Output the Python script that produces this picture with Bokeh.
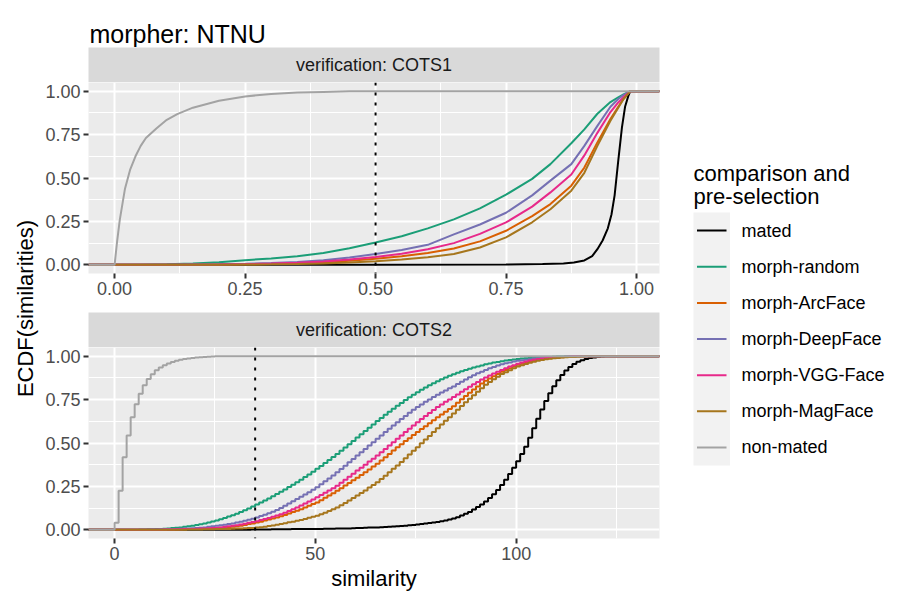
import numpy as np
from bokeh.plotting import figure
from bokeh.layouts import row, column
from bokeh.models import Range1d, FixedTicker, PrintfTickFormatter, Span
from bokeh.embed import file_html
from bokeh.resources import INLINE
from bokeh.core.properties import value

FONT = "Liberation Sans"

# ---------------- texts ----------------
title_text = "morpher: NTNU"
strip_labels = ["verification: COTS1", "verification: COTS2"]
x_title = "similarity"
y_title = "ECDF(similarities)"
legend_title = ["comparison and", "pre-selection"]
series_names = ["mated", "morph-random", "morph-ArcFace", "morph-DeepFace",
                "morph-VGG-Face", "morph-MagFace", "non-mated"]
series_colors = ["#000000", "#1B9E77", "#D95F02", "#7570B3",
                 "#E7298A", "#A6761D", "#A3A3A3"]

# ---------------- ticks / thresholds ----------------
cots1_ticks = [0.0, 0.25, 0.5, 0.75, 1.0]
cots2_ticks = [0, 50, 100]
ecdf_ticks = [0.0, 0.25, 0.5, 0.75, 1.0]
cots1_threshold = 0.5
cots2_threshold = 35

# ---------------- COTS1 (continuous similarity) ----------------
c1_mated_x = [0.0, 0.50, 0.75, 0.82, 0.86, 0.88, 0.90, 0.915, 0.925, 0.935, 0.945,
              0.952, 0.958, 0.965, 0.972, 0.978, 0.984, 0.988]
c1_mated_y = [0.0, 0.001, 0.002, 0.004, 0.008, 0.013, 0.025, 0.05, 0.09, 0.14, 0.21,
              0.29, 0.40, 0.60, 0.79, 0.91, 0.97, 1.0]

c1_random_x = [0.0, 0.05, 0.10, 0.15, 0.20, 0.25, 0.30, 0.35, 0.40, 0.45, 0.50, 0.55,
               0.60, 0.65, 0.70, 0.75, 0.80, 0.835, 0.875, 0.90, 0.925, 0.95, 0.965,
               0.975, 0.988]
c1_random_y = [0.0, 0.001, 0.003, 0.007, 0.015, 0.027, 0.037, 0.05, 0.068, 0.095, 0.129,
               0.165, 0.21, 0.262, 0.325, 0.404, 0.495, 0.58, 0.70, 0.78, 0.87, 0.937,
               0.965, 0.982, 1.0]

c1_deepface_x = [0.0, 0.10, 0.20, 0.25, 0.30, 0.35, 0.40, 0.45, 0.50, 0.55, 0.60, 0.625,
                 0.65, 0.70, 0.75, 0.80, 0.835, 0.875, 0.90, 0.925, 0.95, 0.965, 0.975,
                 0.988]
c1_deepface_y = [0.0, 0.001, 0.003, 0.006, 0.010, 0.016, 0.026, 0.042, 0.062, 0.085, 0.115,
                 0.145, 0.175, 0.232, 0.30, 0.40, 0.485, 0.58, 0.685, 0.80, 0.91, 0.955,
                 0.978, 1.0]

c1_grid_x = [0.0, 0.10, 0.20, 0.25, 0.30, 0.35, 0.40, 0.45, 0.50, 0.55, 0.60, 0.65, 0.70,
             0.75, 0.80, 0.835, 0.875, 0.90, 0.925, 0.95, 0.965, 0.975, 0.988]
c1_vgg_y = [0.0, 0.001, 0.002, 0.004, 0.007, 0.012, 0.019, 0.03, 0.045, 0.064, 0.09, 0.125,
            0.178, 0.244, 0.335, 0.417, 0.52, 0.63, 0.76, 0.88, 0.935, 0.965, 1.0]
c1_arcface_y = [0.0, 0.0005, 0.002, 0.003, 0.005, 0.009, 0.014, 0.023, 0.035, 0.049, 0.068,
                0.094, 0.135, 0.196, 0.28, 0.35, 0.456, 0.56, 0.705, 0.84, 0.91, 0.955, 1.0]
c1_magface_y = [0.0, 0.0, 0.001, 0.002, 0.003, 0.005, 0.008, 0.013, 0.02, 0.03, 0.043,
                0.062, 0.10, 0.158, 0.245, 0.32, 0.427, 0.53, 0.685, 0.83, 0.905, 0.955, 1.0]

c1_nonmated_x = [0.0, 0.005, 0.01, 0.02, 0.03, 0.04, 0.05, 0.06, 0.08, 0.10, 0.12, 0.15,
                 0.20, 0.25, 0.30, 0.35, 0.40, 0.45, 0.50]
c1_nonmated_y = [0.0, 0.14, 0.26, 0.44, 0.55, 0.625, 0.685, 0.73, 0.785, 0.835, 0.868,
                 0.905, 0.945, 0.97, 0.984, 0.992, 0.996, 0.999, 1.0]

# ---------------- COTS2 (integer similarity, ECDF per integer) ----------------
c2_mated_start = 30
c2_mated = [
    0.001, 0.001, 0.001, 0.001, 0.002, 0.002, 0.002, 0.002, 0.002, 0.003,
    0.003, 0.003, 0.003, 0.003, 0.004, 0.004, 0.004, 0.004, 0.005, 0.005,
    0.005, 0.005, 0.006, 0.006, 0.006, 0.007, 0.007, 0.008, 0.008, 0.009,
    0.010, 0.011, 0.012, 0.013, 0.013, 0.014, 0.015, 0.016, 0.017, 0.019,
    0.020, 0.022, 0.024, 0.026, 0.028, 0.030, 0.033, 0.036, 0.039, 0.042,
    0.045, 0.049, 0.054, 0.059, 0.065, 0.073, 0.082, 0.092, 0.103, 0.117,
    0.131, 0.146, 0.163, 0.183, 0.205, 0.230, 0.258, 0.288, 0.322, 0.358,
    0.395, 0.436, 0.478, 0.530, 0.585, 0.640, 0.693, 0.742, 0.787, 0.827,
    0.862, 0.892, 0.917, 0.938, 0.955, 0.968, 0.977, 0.984, 0.989, 0.993,
    0.996, 0.998, 0.999, 1.0]

c2_random_start = 3
c2_random = [
    0.001, 0.001, 0.001, 0.002, 0.002, 0.003, 0.003, 0.004,
    0.005, 0.006, 0.008, 0.010, 0.012, 0.014, 0.017, 0.020, 0.024, 0.028,
    0.032, 0.037, 0.042, 0.048, 0.054, 0.061, 0.068, 0.076, 0.084, 0.092,
    0.102, 0.112, 0.123, 0.134, 0.146, 0.157, 0.169, 0.181, 0.193, 0.206,
    0.219, 0.232, 0.246, 0.260, 0.274, 0.289, 0.304, 0.319, 0.335, 0.351,
    0.368, 0.385, 0.402, 0.419, 0.437, 0.455, 0.474, 0.493, 0.512, 0.531,
    0.550, 0.569, 0.588, 0.607, 0.626, 0.644, 0.662, 0.680, 0.697, 0.714,
    0.731, 0.747, 0.763, 0.778, 0.792, 0.806, 0.819, 0.832, 0.844, 0.856,
    0.867, 0.877, 0.887, 0.896, 0.905, 0.913, 0.921, 0.928, 0.935, 0.941,
    0.947, 0.953, 0.958, 0.963, 0.967, 0.971, 0.975, 0.978, 0.981, 0.984,
    0.986, 0.988, 0.990, 0.992, 0.993, 0.994, 0.995, 0.996, 0.997, 0.998,
    0.998, 0.999, 0.999, 1.0]

c2_arcface_start = 8
c2_arcface = [
    0.001, 0.001, 0.001,
    0.001, 0.001, 0.002, 0.002, 0.002, 0.003, 0.003, 0.004, 0.004, 0.005,
    0.006, 0.007, 0.008, 0.009, 0.010, 0.012, 0.014, 0.016, 0.018, 0.021,
    0.024, 0.028, 0.033, 0.037, 0.042, 0.047, 0.053, 0.059, 0.065, 0.071,
    0.078, 0.086, 0.094, 0.102, 0.110, 0.119, 0.128, 0.138, 0.148, 0.158,
    0.171, 0.184, 0.197, 0.211, 0.225, 0.240, 0.255, 0.270, 0.285, 0.300,
    0.316, 0.332, 0.348, 0.364, 0.380, 0.399, 0.418, 0.437, 0.457, 0.476,
    0.493, 0.511, 0.528, 0.546, 0.563, 0.580, 0.597, 0.614, 0.631, 0.648,
    0.664, 0.680, 0.696, 0.712, 0.732, 0.752, 0.771, 0.790, 0.808, 0.825,
    0.842, 0.858, 0.871, 0.885, 0.898, 0.910, 0.920, 0.930, 0.940, 0.950,
    0.957, 0.963, 0.969, 0.974, 0.978, 0.982, 0.985, 0.988, 0.990, 0.992,
    0.994, 0.996, 0.997, 0.998, 0.999, 1.0]

c2_deepface_start = 5
c2_deepface = [
    0.001, 0.001, 0.001, 0.001, 0.002, 0.002,
    0.003, 0.003, 0.004, 0.005, 0.005, 0.006, 0.007, 0.008, 0.009, 0.010,
    0.012, 0.014, 0.017, 0.020, 0.023, 0.026, 0.029, 0.033, 0.037, 0.042,
    0.047, 0.052, 0.058, 0.064, 0.071, 0.079, 0.087, 0.095, 0.104, 0.114,
    0.126, 0.138, 0.151, 0.164, 0.177, 0.190, 0.203, 0.217, 0.231, 0.245,
    0.262, 0.279, 0.296, 0.313, 0.331, 0.350, 0.369, 0.389, 0.408, 0.428,
    0.447, 0.466, 0.485, 0.505, 0.524, 0.543, 0.563, 0.582, 0.601, 0.620,
    0.638, 0.656, 0.674, 0.691, 0.707, 0.722, 0.737, 0.751, 0.765, 0.778,
    0.791, 0.803, 0.815, 0.826, 0.840, 0.853, 0.866, 0.878, 0.890, 0.901,
    0.911, 0.921, 0.930, 0.938, 0.946, 0.953, 0.959, 0.964, 0.969, 0.973,
    0.977, 0.980, 0.983, 0.986, 0.988, 0.990, 0.992, 0.993, 0.994, 0.995,
    0.996, 0.997, 0.998, 0.999, 1.0]

c2_vgg_start = 7
c2_vgg = [
    0.001, 0.001, 0.001, 0.001,
    0.001, 0.002, 0.002, 0.002, 0.003, 0.003, 0.004, 0.004, 0.005, 0.006,
    0.007, 0.008, 0.009, 0.010, 0.012, 0.014, 0.017, 0.020, 0.023, 0.027,
    0.031, 0.035, 0.040, 0.045, 0.050, 0.056, 0.062, 0.068, 0.075, 0.082,
    0.090, 0.099, 0.109, 0.119, 0.129, 0.140, 0.151, 0.163, 0.175, 0.187,
    0.200, 0.213, 0.226, 0.240, 0.254, 0.271, 0.288, 0.305, 0.323, 0.341,
    0.358, 0.375, 0.393, 0.410, 0.428, 0.447, 0.466, 0.485, 0.505, 0.524,
    0.543, 0.563, 0.582, 0.601, 0.620, 0.638, 0.656, 0.673, 0.690, 0.707,
    0.722, 0.737, 0.751, 0.765, 0.780, 0.795, 0.810, 0.824, 0.838, 0.852,
    0.865, 0.877, 0.889, 0.900, 0.911, 0.921, 0.931, 0.940, 0.948, 0.956,
    0.963, 0.969, 0.975, 0.980, 0.984, 0.987, 0.990, 0.992, 0.994, 0.995,
    0.996, 0.997, 0.998, 0.999, 0.999, 1.0]

c2_magface_start = 11
c2_magface = [
    0.001, 0.001, 0.001, 0.001, 0.001, 0.001, 0.001, 0.002, 0.002, 0.002,
    0.002, 0.003, 0.003, 0.003, 0.004, 0.004, 0.005, 0.005, 0.006, 0.007,
    0.008, 0.009, 0.010, 0.011, 0.013, 0.015, 0.018, 0.022, 0.025, 0.029,
    0.033, 0.038, 0.043, 0.047, 0.052, 0.057, 0.063, 0.069, 0.075, 0.081,
    0.090, 0.099, 0.109, 0.119, 0.129, 0.142, 0.155, 0.169, 0.183, 0.197,
    0.212, 0.227, 0.243, 0.258, 0.274, 0.293, 0.312, 0.331, 0.351, 0.370,
    0.391, 0.412, 0.434, 0.455, 0.476, 0.498, 0.520, 0.541, 0.563, 0.585,
    0.606, 0.628, 0.649, 0.670, 0.691, 0.713, 0.734, 0.755, 0.775, 0.795,
    0.815, 0.835, 0.851, 0.867, 0.882, 0.897, 0.908, 0.919, 0.930, 0.940,
    0.948, 0.955, 0.962, 0.968, 0.973, 0.978, 0.982, 0.985, 0.988, 0.990,
    0.992, 0.994, 0.995, 0.996, 0.997, 0.998, 0.999, 0.999, 1.0]

c2_nonmated_start = 0
c2_nonmated = [
    0.040, 0.225, 0.418, 0.543, 0.649, 0.723, 0.784, 0.832, 0.869, 0.896,
    0.919, 0.935, 0.948, 0.958, 0.967, 0.974, 0.979, 0.984, 0.987, 0.990,
    0.992, 0.994, 0.996, 0.997, 0.998, 0.999, 1.0]

cots1_series = [(c1_mated_x, c1_mated_y), (c1_random_x, c1_random_y),
                (c1_grid_x, c1_arcface_y), (c1_deepface_x, c1_deepface_y),
                (c1_grid_x, c1_vgg_y), (c1_grid_x, c1_magface_y),
                (c1_nonmated_x, c1_nonmated_y)]
cots2_series = [(c2_mated_start, c2_mated), (c2_random_start, c2_random),
                (c2_arcface_start, c2_arcface), (c2_deepface_start, c2_deepface),
                (c2_vgg_start, c2_vgg), (c2_magface_start, c2_magface),
                (c2_nonmated_start, c2_nonmated)]

# ---------------- layout constants (pixels) ----------------
TOTAL_W, TOTAL_H = 899, 594
W_YLAB = 40
W_MAIN = 635
W_LEG = TOTAL_W - W_YLAB - W_MAIN
B_LEFT, B_RIGHT = 48, 16
FRAME_H = 191
H_TITLE, H_STRIP = 47, 35
P1_BOTTOM = 39
H_P1 = FRAME_H + P1_BOTTOM
H_P2 = TOTAL_H - H_TITLE - 2 * H_STRIP - H_P1
P2_BOTTOM = H_P2 - FRAME_H

PANEL_BG = "#EBEBEB"
STRIP_BG = "#D9D9D9"
LINE_W = 2


def minor_of(ticks):
    step = ticks[1] - ticks[0]
    return [t - step / 2 for t in ticks] + [ticks[-1] + step / 2]


def canvas(width, height, x0, y0, bl=0, br=0):
    # frame coordinates expressed in page pixels (y grows downwards)
    p = figure(width=width, height=height, x_range=Range1d(x0 + bl, x0 + width - br),
               y_range=Range1d(y0 + height, y0), output_backend="svg",
               toolbar_location=None, x_axis_location=None, y_axis_location=None)
    p.min_border_left = bl
    p.min_border_right = br
    p.min_border_top = 0
    p.min_border_bottom = 0
    p.outline_line_color = None
    p.grid.visible = False
    p.background_fill_color = "white"
    p.border_fill_color = "white"
    return p


def panel(x_range, xticks, xfmt, height, bottom):
    p = figure(width=W_MAIN, height=height, x_range=x_range,
               y_range=Range1d(-0.05, 1.05), output_backend="svg",
               toolbar_location=None)
    p.min_border_left = B_LEFT
    p.min_border_right = B_RIGHT
    p.min_border_top = 0
    p.min_border_bottom = bottom
    p.background_fill_color = PANEL_BG
    p.border_fill_color = "white"
    p.outline_line_color = None
    xt = FixedTicker(ticks=xticks, minor_ticks=minor_of(xticks))
    yt = FixedTicker(ticks=ecdf_ticks, minor_ticks=minor_of(ecdf_ticks))
    p.xaxis.ticker = xt
    p.yaxis.ticker = yt
    p.xgrid.ticker = xt
    p.ygrid.ticker = yt
    p.xaxis.formatter = PrintfTickFormatter(format=xfmt)
    p.yaxis.formatter = PrintfTickFormatter(format="%.2f")
    for ax in list(p.xaxis) + list(p.yaxis):
        ax.axis_line_color = None
        ax.major_tick_line_color = "#333333"
        ax.major_tick_line_width = 2
        ax.major_tick_out = 5
        ax.major_tick_in = 0
        ax.minor_tick_line_color = None
        ax.major_label_text_font = FONT
        ax.major_label_text_font_size = "18px"
        ax.major_label_text_color = "#4D4D4D"
        ax.major_label_standoff = 3
    p.grid.grid_line_color = "white"
    p.grid.grid_line_width = 2
    p.grid.minor_grid_line_color = "white"
    p.grid.minor_grid_line_width = 1
    return p


def strip(x_range, label):
    s = figure(width=W_MAIN, height=H_STRIP, x_range=x_range, y_range=Range1d(0, 1),
               output_backend="svg", toolbar_location=None,
               x_axis_location=None, y_axis_location=None)
    s.min_border_left = B_LEFT
    s.min_border_right = B_RIGHT
    s.min_border_top = 0
    s.min_border_bottom = 0
    s.background_fill_color = STRIP_BG
    s.border_fill_color = "white"
    s.outline_line_color = None
    s.grid.visible = False
    s.text(x=[(x_range.start + x_range.end) / 2], y=[0.5], text=[label],
           text_font=value(FONT), text_font_size="18px", text_color="#1A1A1A",
           text_align="center", text_baseline="middle")
    return s


# ---------------- COTS1 panel ----------------
xr1 = Range1d(-0.05, 1.044)
p1 = panel(xr1, cots1_ticks, "%.2f", H_P1, P1_BOTTOM)
for (xs, ys), col in zip(cots1_series, series_colors):
    p1.line([xr1.start] + xs + [xr1.end], [0.0] + ys + [1.0],
            line_color=col, line_width=LINE_W)
p1.add_layout(Span(location=cots1_threshold, dimension="height", line_color="black",
                   line_width=2, line_dash="3 7"))

# ---------------- COTS2 panel ----------------
xr2 = Range1d(-6.5, 135.7)
p2 = panel(xr2, cots2_ticks, "%d", H_P2, P2_BOTTOM)
for (start, vals), col in zip(cots2_series, series_colors):
    xs = [xr2.start] + [start + i for i in range(len(vals))] + [xr2.end]
    ys = [0.0] + vals + [1.0]
    p2.step(xs, ys, mode="after", line_color=col, line_width=LINE_W)
p2.add_layout(Span(location=cots2_threshold, dimension="height", line_color="black",
                   line_width=2, line_dash="3 7"))
p2.xaxis.axis_label = x_title
p2.xaxis.axis_label_text_font = FONT
p2.xaxis.axis_label_text_font_size = "22px"
p2.xaxis.axis_label_text_font_style = "normal"
p2.xaxis.axis_label_text_color = "black"
p2.xaxis.axis_label_standoff = 3

s1 = strip(xr1, strip_labels[0])
s2 = strip(xr2, strip_labels[1])

# ---------------- title ----------------
tfig = canvas(W_MAIN, H_TITLE, W_YLAB, 0, B_LEFT, B_RIGHT)
tfig.text(x=[W_YLAB + B_LEFT + 1], y=[33], text=[title_text], text_font=value(FONT),
          text_font_size="25px", text_color="black", text_align="left",
          text_baseline="alphabetic")

# ---------------- y axis title ----------------
yfig = canvas(W_YLAB, TOTAL_H, 0, 0)
yfig.text(x=[25], y=[308], text=[y_title], angle=np.pi / 2, text_font=value(FONT),
          text_font_size="22px", text_color="black", text_align="center",
          text_baseline="middle")

# ---------------- legend ----------------
lx0 = W_YLAB + W_MAIN
lfig = canvas(W_LEG, TOTAL_H, lx0, 0)
lfig.text(x=[693, 693], y=[173, 195.5], text=legend_title, text_font=value(FONT),
          text_font_size="22px", text_color="black", text_align="left",
          text_baseline="alphabetic")
n = len(series_names)
key_top, key_h = 212, 36.15
lfig.quad(left=[693], right=[729.5], top=[key_top], bottom=[key_top + n * key_h],
          fill_color="#F2F2F2", line_color=None)
key_y = [key_top + key_h * (i + 0.5) for i in range(n)]
lfig.segment(x0=[696.5] * n, x1=[726] * n, y0=key_y, y1=key_y,
             line_color=series_colors, line_width=LINE_W)
lfig.text(x=[741] * n, y=key_y, text=series_names, text_font=value(FONT),
          text_font_size="18px", text_color="black", text_align="left",
          text_baseline="middle")

layout = row(yfig, column(tfig, s1, p1, s2, p2), lfig)
open("out.html", "w").write(file_html(layout, INLINE, "morpher: NTNU"))
